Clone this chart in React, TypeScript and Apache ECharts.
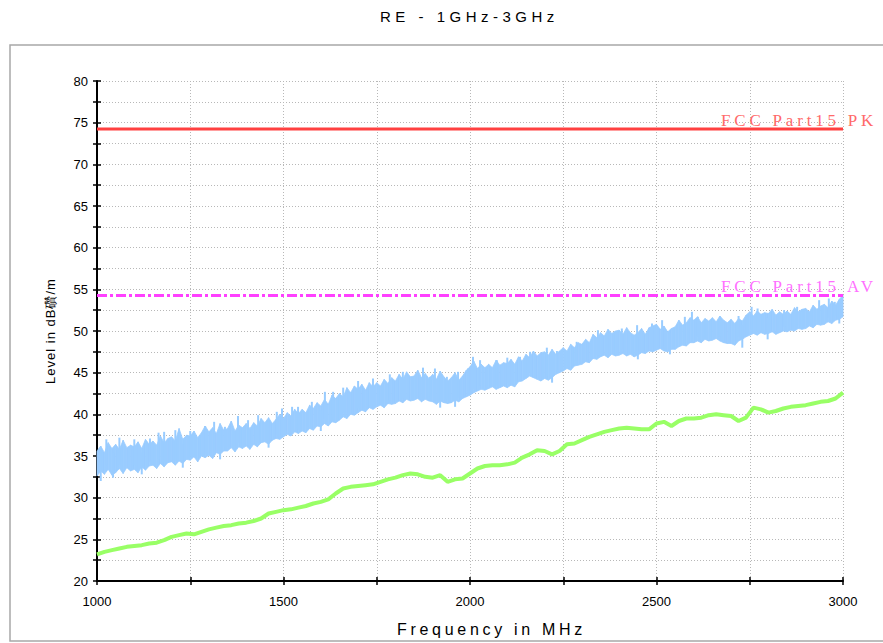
import React, { useEffect, useRef } from 'react';
import * as echarts from 'echarts';

const TITLE = 'RE - 1GHz-3GHz';
const X_NAME = 'Frequency in MHz';
const Y_NAME = 'Level in dB礸/m';
const PK_LABEL = 'FCC Part15 PK';
const AV_LABEL = 'FCC Part15 AV';

const X_MIN = 1000;
const X_MAX = 3000;
const Y_MIN = 20;
const Y_MAX = 80;

const PK_LIMIT = 74.25;
const AV_LIMIT = 54.25;

// Peak trace (blue), upper and lower envelope of the noisy sweep, 10 MHz steps from 1000 MHz
const BLUE_STEP = 10;
const BLUE_UPPER = [
  35.6, 36.2, 35.4, 36.6, 35.9, 36.4, 35.8, 36.9, 36.0, 36.3,
  36.1, 36.7, 35.9, 37.0, 36.4, 36.8, 36.3, 37.4, 36.6, 37.1,
  37.3, 36.8, 38.3, 37.0, 37.5, 37.4, 38.0, 37.2, 37.8, 38.6,
  37.9, 38.4, 37.7, 38.9, 38.1, 38.3, 39.2, 38.0, 38.7, 38.4,
  38.9, 38.3, 39.0, 38.6, 39.5, 39.0, 39.6, 38.9, 39.4, 40.0,
  39.5, 40.2, 39.8, 40.6, 40.1, 40.6, 40.2, 41.1, 40.7, 41.4,
  41.0, 41.8, 41.2, 42.3, 41.9, 42.5, 42.1, 43.2, 42.6, 43.4,
  43.0, 43.6, 42.9, 43.8, 43.3, 43.8, 43.4, 44.2, 43.7, 44.4,
  44.0, 44.8, 44.2, 45.1, 44.5, 44.6, 45.3, 44.4, 44.9, 44.3,
  44.8, 44.2, 45.2, 44.5, 44.0, 44.4, 45.0, 44.1, 44.6, 45.3,
  45.7, 46.4, 45.5, 46.0, 45.6, 46.0, 45.6, 46.5, 45.9, 46.2,
  46.1, 46.6, 46.0, 46.9, 46.4, 47.2, 46.8, 47.6, 47.0, 47.4,
  47.5, 47.1, 47.8, 47.2, 47.6, 48.0, 47.6, 48.4, 48.0, 48.6,
  48.4, 49.0, 48.6, 49.6, 49.2, 49.8, 49.4, 50.2, 49.7, 50.0,
  50.1, 49.6, 50.4, 49.8, 49.5, 49.8, 50.3, 49.6, 50.4, 50.6,
  50.8, 50.2, 50.6, 49.9, 50.3, 50.5, 51.3, 50.7, 51.0, 51.6,
  51.3, 51.7, 51.0, 51.5, 51.2, 51.6, 51.1, 51.8, 51.3, 51.0,
  51.4, 50.9, 51.5, 51.2, 51.9, 52.3, 51.8, 52.4, 52.0, 52.2,
  52.1, 52.6, 51.9, 52.3, 52.0, 52.4, 52.0, 52.8, 52.3, 52.6,
  52.7, 52.3, 53.1, 52.6, 53.0, 53.2, 52.8, 53.6, 53.1, 53.8,
  54.3,
];
const BLUE_LOWER = [
  32.6, 33.2, 32.8, 33.4, 32.7, 33.0, 33.5, 32.9, 33.6, 33.2,
  33.4, 33.0, 33.7, 33.3, 33.8, 33.9, 33.5, 34.1, 33.7, 34.2,
  34.3, 33.9, 34.4, 34.1, 34.6, 34.5, 34.9, 34.3, 35.0, 34.8,
  35.1, 34.7, 35.4, 35.2, 35.6, 35.6, 36.0, 35.5, 36.1, 35.9,
  36.2, 35.8, 36.4, 36.1, 36.6, 36.7, 36.4, 36.9, 37.1, 37.0,
  37.3, 37.6, 37.4, 37.9, 37.7, 38.0, 37.8, 38.3, 38.1, 38.6,
  38.5, 38.9, 38.6, 39.1, 39.0, 39.3, 39.7, 39.5, 40.0, 39.9,
  40.2, 40.5, 40.3, 40.8, 40.6, 40.9, 41.1, 40.8, 41.3, 41.2,
  41.3, 41.6, 41.4, 41.8, 41.6, 41.7, 41.9, 41.5, 41.8, 41.6,
  41.5, 41.2, 41.6, 41.4, 41.3, 41.4, 41.7, 41.5, 41.9, 42.1,
  42.3, 42.6, 42.8, 43.0, 42.9, 43.1, 43.3, 43.0, 43.2, 43.4,
  43.2, 43.5, 43.3, 43.9, 44.0, 44.3, 44.6, 44.4, 44.2, 44.0,
  44.3, 44.1, 44.4, 44.8, 45.0, 45.2, 45.5, 45.3, 45.8, 45.9,
  46.0, 46.3, 46.2, 46.7, 46.6, 46.9, 47.1, 46.8, 47.2, 47.0,
  47.1, 47.3, 47.0, 47.2, 46.9, 47.1, 47.4, 47.3, 47.6, 47.5,
  47.7, 47.9, 47.6, 47.5, 47.8, 47.8, 48.1, 48.3, 48.2, 48.6,
  48.6, 48.8, 48.6, 49.0, 48.8, 48.9, 49.1, 48.8, 48.6, 48.5,
  48.5, 48.3, 48.8, 49.0, 49.3, 49.5, 49.7, 49.5, 49.8, 49.6,
  49.7, 49.9, 49.6, 49.8, 50.0, 49.9, 50.1, 50.0, 50.3, 50.2,
  50.3, 50.6, 50.4, 50.8, 50.7, 50.8, 51.1, 50.9, 51.3, 51.4,
  51.7,
];

// Narrow upward spikes of the peak trace: [MHz, top level]
const BLUE_SPIKES = [
  [1025, 37.0], [1060, 37.2], [1100, 37.0], [1142, 37.1], [1165, 37.8], [1180, 37.9],
  [1210, 38.1], [1250, 38.0], [1290, 38.6], [1314, 39.1], [1343, 38.5], [1378, 39.8],
  [1405, 39.3], [1432, 39.9], [1482, 40.3], [1496, 40.7], [1523, 40.9], [1539, 40.9],
  [1576, 41.5], [1611, 42.7], [1633, 42.7], [1660, 43.2], [1700, 44.0], [1740, 44.3],
  [1785, 44.8], [1820, 45.1], [1874, 45.6], [1893, 44.5], [1906, 45.5], [1938, 44.5],
  [1968, 45.1], [1995, 45.5], [2008, 46.9], [2027, 46.5], [2072, 46.5], [2100, 46.8],
  [2134, 46.9], [2161, 47.5], [2206, 48.0], [2233, 47.6], [2286, 48.7], [2316, 48.6],
  [2343, 50.1], [2407, 50.3], [2448, 50.7], [2488, 50.9], [2515, 51.3], [2576, 51.7],
  [2595, 52.3], [2611, 51.7], [2670, 51.7], [2720, 51.8], [2755, 52.9], [2771, 52.7],
  [2842, 52.5], [2877, 52.9], [2936, 53.7], [2962, 53.9], [2978, 53.5],
];
// Narrow downward dips of the peak trace: [MHz, bottom level]
const BLUE_DIPS = [
  [1010, 32.0], [1043, 32.4], [1120, 32.8], [1230, 33.6], [1330, 34.6], [1460, 36.0],
  [1600, 38.0], [1920, 40.8], [1960, 40.9], [2220, 43.8], [2450, 46.6], [2536, 47.2],
  [2730, 48.0], [2798, 49.0], [2990, 50.9],
];

// Average trace (green), 20 MHz steps from 1000 MHz
const GREEN_STEP = 20;
const GREEN = [
  23.2, 23.5, 23.7, 23.9, 24.1, 24.2, 24.3, 24.5, 24.6, 24.9,
  25.3, 25.5, 25.7, 25.6, 25.9, 26.2, 26.4, 26.6, 26.7, 26.9,
  27.0, 27.2, 27.5, 28.1, 28.3, 28.5, 28.6, 28.8, 29.0, 29.3,
  29.5, 29.8, 30.5, 31.1, 31.3, 31.4, 31.5, 31.6, 31.9, 32.2,
  32.4, 32.7, 32.9, 32.8, 32.5, 32.4, 32.7, 31.9, 32.2, 32.3,
  32.9, 33.5, 33.8, 33.9, 33.9, 34.0, 34.2, 34.8, 35.2, 35.7,
  35.6, 35.2, 35.6, 36.4, 36.5, 36.9, 37.3, 37.6, 37.9, 38.1,
  38.3, 38.4, 38.3, 38.2, 38.2, 38.9, 39.1, 38.6, 39.2, 39.5,
  39.5, 39.6, 39.9, 40.0, 39.9, 39.8, 39.2, 39.6, 40.8, 40.6,
  40.2, 40.4, 40.7, 40.9, 41.0, 41.1, 41.3, 41.5, 41.6, 41.9,
  42.6,
];

const FONT = 'Liberation Sans, Arial, sans-serif';
const SERIF = 'Liberation Serif, Times New Roman, serif';
const BLUE = '#99ccff';

export default function App() {
  const ref = useRef<HTMLDivElement>(null);

  useEffect(() => {
    const el = ref.current!;
    const chart = echarts.init(el, null, { renderer: 'svg' });

    const bandSegments = BLUE_UPPER.slice(0, -1).map((u, i) => [
      X_MIN + i * BLUE_STEP,
      BLUE_LOWER[i],
      u,
      X_MIN + (i + 1) * BLUE_STEP,
      BLUE_LOWER[i + 1],
      BLUE_UPPER[i + 1],
    ]);
    const idx = (f: number) => Math.round((f - X_MIN) / BLUE_STEP);
    const verticals = [
      ...BLUE_SPIKES.map(([f, v]) => [f, v, BLUE_LOWER[idx(f)] + 0.5]),
      ...BLUE_DIPS.map(([f, v]) => [f, v, BLUE_UPPER[idx(f)] - 0.5]),
    ];
    const greenData = GREEN.map((v, i) => [X_MIN + i * GREEN_STEP, v]);

    const gridLine = { show: true, lineStyle: { color: '#b8b8b8', type: [1, 2] as any, width: 1 } };

    chart.setOption({
      animation: false,
      backgroundColor: '#ffffff',
      grid: { left: 97, top: 81, right: 40, bottom: 62, containLabel: false },
      graphic: [
        {
          type: 'rect',
          shape: { x: 10, y: 45, width: 890, height: 596 },
          style: { fill: 'none', stroke: '#a8a8a8', lineWidth: 1.5 },
          silent: true,
          z: -10,
        },
        {
          type: 'text',
          left: 380,
          top: 9,
          z: 100,
          style: { text: TITLE, fill: '#000', font: `15px ${FONT}` },
        },
        {
          type: 'text',
          left: 397,
          top: 621,
          z: 100,
          style: { text: X_NAME, fill: '#000', font: `16px ${FONT}` },
        },
        {
          type: 'text',
          left: 721,
          top: 112,
          z: 100,
          style: { text: PK_LABEL, fill: '#ff6a6a', font: `17px ${SERIF}` },
        },
        {
          type: 'text',
          left: 721,
          top: 278,
          z: 100,
          style: { text: AV_LABEL, fill: '#ff70ff', font: `17px ${SERIF}` },
        },
      ],
      xAxis: [
        {
          type: 'value',
          min: X_MIN,
          max: X_MAX,
          interval: 250,
          position: 'bottom',
          axisLine: { show: true, onZero: false, lineStyle: { color: '#000', width: 2 } },
          axisTick: { show: true, length: 4, lineStyle: { color: '#000', width: 1.5 } },
          axisLabel: {
            margin: 14,
            fontSize: 13,
            fontFamily: FONT,
            color: '#000',
            formatter: (v: number) => (v % 500 === 0 ? String(v) : ''),
          },
          splitLine: gridLine,
        },
        {
          type: 'value',
          min: X_MIN,
          max: X_MAX,
          interval: 250,
          position: 'bottom',
          axisLine: { show: false, onZero: false },
          axisTick: { show: true, inside: true, length: 4, lineStyle: { color: '#000', width: 1.5 } },
          axisLabel: { show: false },
          splitLine: { show: false },
        },
      ],
      yAxis: [
        {
          type: 'value',
          min: Y_MIN,
          max: Y_MAX,
          interval: 2.5,
          position: 'left',
          name: Y_NAME,
          nameLocation: 'middle',
          nameGap: 40,
          nameTextStyle: { fontSize: 13, fontFamily: FONT, color: '#000' },
          axisLine: { show: true, onZero: false, lineStyle: { color: '#000', width: 2 } },
          axisTick: { show: true, length: 4, lineStyle: { color: '#000', width: 1.5 } },
          axisLabel: {
            margin: 9,
            fontSize: 13,
            fontFamily: FONT,
            color: '#000',
            formatter: (v: number) => (v % 5 === 0 ? String(v) : ''),
          },
          splitLine: gridLine,
        },
        {
          type: 'value',
          min: Y_MIN,
          max: Y_MAX,
          interval: 2.5,
          position: 'left',
          axisLine: { show: false, onZero: false },
          axisTick: { show: true, inside: true, length: 4, lineStyle: { color: '#000', width: 1.5 } },
          axisLabel: { show: false },
          splitLine: { show: false },
        },
      ],
      series: [
        {
          type: 'custom',
          name: 'peak',
          data: bandSegments,
          encode: { x: [0, 3], y: [1, 2, 4, 5] },
          renderItem: (_params: any, api: any) => {
            const a = api.coord([api.value(0), api.value(1)]);
            const b = api.coord([api.value(0), api.value(2)]);
            const c = api.coord([api.value(3), api.value(5)]);
            const d = api.coord([api.value(3), api.value(4)]);
            return {
              type: 'polygon',
              shape: { points: [a, b, c, d] },
              style: { fill: BLUE, stroke: BLUE, lineWidth: 0.8 },
            };
          },
          silent: true,
          z: 2,
        },
        {
          type: 'custom',
          name: 'peakSpikes',
          data: verticals,
          encode: { x: 0, y: [1, 2] },
          renderItem: (_params: any, api: any) => {
            const a = api.coord([api.value(0), api.value(1)]);
            const b = api.coord([api.value(0), api.value(2)]);
            return {
              type: 'line',
              shape: { x1: a[0], y1: a[1], x2: b[0], y2: b[1] },
              style: { stroke: BLUE, lineWidth: 2 },
            };
          },
          silent: true,
          z: 2,
        },
        {
          type: 'line',
          name: 'average',
          data: greenData,
          symbol: 'none',
          lineStyle: { width: 4, color: '#99ff66' },
          silent: true,
          z: 3,
        },
        {
          type: 'line',
          name: 'PK limit',
          data: [[X_MIN, PK_LIMIT], [X_MAX, PK_LIMIT]],
          symbol: 'none',
          lineStyle: { width: 3, color: '#ff4040' },
          silent: true,
          z: 4,
        },
        {
          type: 'line',
          name: 'AV limit',
          data: [[X_MIN, AV_LIMIT], [X_MAX, AV_LIMIT]],
          symbol: 'none',
          lineStyle: { width: 3, color: '#ff40ff', type: [10, 3, 3, 3] as any },
          silent: true,
          z: 4,
        },
      ],
    });

    el.querySelectorAll('text').forEach((t) => {
      const s = t.textContent;
      const st = (t as any).style;
      if (s === TITLE) st.letterSpacing = '4.5px';
      if (s === X_NAME) st.letterSpacing = '3.7px';
      if (s === Y_NAME) st.letterSpacing = '1px';
      if (s === PK_LABEL || s === AV_LABEL) st.letterSpacing = '3.8px';
    });

    return () => chart.dispose();
  }, []);

  return (
    <div
      ref={ref}
      style={{ position: 'fixed', left: 0, top: 0, width: 883, height: 643, background: '#fff' }}
    />
  );
}
